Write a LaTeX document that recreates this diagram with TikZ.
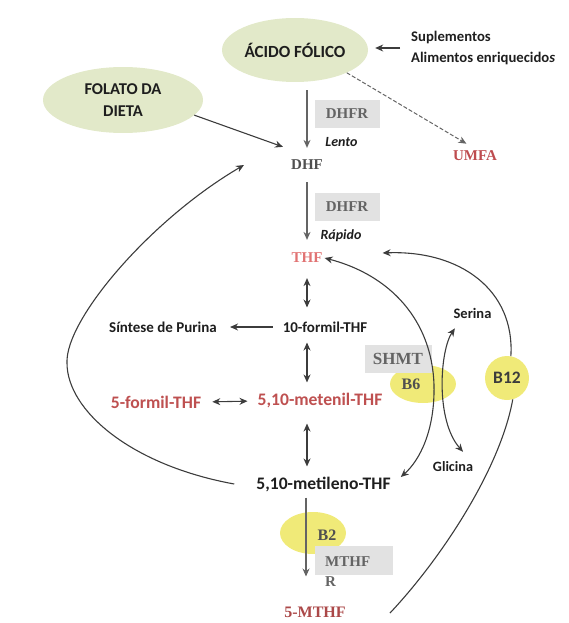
\documentclass[tikz,border=0pt]{standalone}
\usepackage{fontspec}
\setmainfont{Carlito}
\newfontfamily\tnr{Liberation Serif}
\usetikzlibrary{arrows.meta,shapes.geometric}
\definecolor{fGreen}{RGB}{226,233,201}
\definecolor{fYellow}{RGB}{240,234,120}
\definecolor{fBox}{RGB}{226,226,226}
\definecolor{fLine}{RGB}{60,60,60}
\definecolor{fEnz}{RGB}{100,100,100}
\definecolor{fRed}{RGB}{190,80,80}
\definecolor{fPink}{RGB}{225,115,115}
\definecolor{fDark}{RGB}{30,30,30}

\tikzset{
  blob/.style={ellipse, fill=fGreen, inner sep=0pt, align=center, text=fDark,
    font=\fontsize{16.5}{22}\selectfont\bfseries},
  vit/.style={ellipse, fill=fYellow, inner sep=0pt},
  lbl/.style={inner sep=2pt, text=fDark, font=\fontsize{15}{17}\selectfont\bfseries},
  big/.style={inner sep=2pt, text=fDark, font=\fontsize{17.6}{20}\selectfont\bfseries},
  small/.style={inner sep=2pt, text=fDark, font=\fontsize{14.5}{16}\selectfont\bfseries},
  ser/.style={inner sep=2pt, text=fEnz, font=\tnr\fontsize{15}{20}\selectfont\bfseries},
  gbox/.style={ser, fill=fBox, minimum width=65pt, minimum height=28pt},
  arr/.style={-{Stealth[length=8pt,width=7pt]}, line width=1.1pt, fLine},
  dbl/.style={{Stealth[length=8pt,width=7pt]}-{Stealth[length=8pt,width=7pt]}, line width=1.1pt, fLine},
}

\begin{document}
\begin{tikzpicture}[x=1pt,y=-1pt]
  \useasboundingbox (0,0) rectangle (568,623);

  % Sources
  \node[blob, minimum width=146pt, minimum height=64pt, font=\fontsize{17}{22}\selectfont\bfseries] (acido) at (295,50) {ÁCIDO FÓLICO};
  \node[blob, minimum width=160pt, minimum height=66pt] (folato) at (123,100) {FOLATO DA\\DIETA};
  \node[lbl, anchor=west, align=left, font=\fontsize{14.7}{21}\selectfont\bfseries] (supl) at (409,48)
    {Suplementos\\Alimentos enriquecido{\itshape s}};

  % Cofactors
  \node[vit, minimum width=66pt, minimum height=42pt] (b2) at (313,533) {};
  \node[vit, minimum width=66pt, minimum height=38pt] (b6) at (423,384) {};
  \node[circle, fill=fYellow, minimum size=44pt, inner sep=0pt, text=fLine,
    font=\fontsize{17.5}{19}\selectfont\bfseries] (b12) at (507,378) {B12};

  % Enzymes
  \node[gbox] (dhfrA) at (347,114) {DHFR};
  \node[gbox] (dhfrB) at (347,207) {DHFR};
  \node[gbox, minimum width=67pt, font=\tnr\fontsize{17}{20}\selectfont\bfseries] (shmt) at (398,359) {SHMT};
  \node[gbox, minimum width=78pt, minimum height=29pt] (mthfr) at (354,560) {};
  \node[ser, anchor=west, align=left] (mthfrtxt) at (323,572) {MTHF\\R};
  \node[ser, text=fEnz!80!black, font=\tnr\fontsize{16}{20}\selectfont\bfseries] (b2txt) at (327,535) {B2};
  \node[ser, text=fEnz!80!black, font=\tnr\fontsize{16}{20}\selectfont\bfseries] (b6txt) at (411,384) {B6};

  % Folate chain
  \node[ser, text=fLine!90!white] (dhf) at (307,165) {DHF};
  \node[ser, text=fPink] (thf) at (307,258) {THF};
  \node[lbl] (formilT) at (325,327) {10-formil-THF};
  \node[big, text=fRed] (metenil) at (320,401) {5,10-metenil-THF};
  \node[big] (metileno) at (323.5,484) {5,10-metileno-THF};
  \node[ser, text=fRed!90!black, font=\tnr\fontsize{16}{20}\selectfont\bfseries] (mthf5) at (315,612) {5-MTHF};

  % Side products
  \node[ser, text=fRed!95!purple] (umfa) at (475,156) {UMFA};
  \node[lbl] (purina) at (163,327) {Síntese de Purina};
  \node[big, text=fRed] (formilC) at (156,402) {5-formil-THF};
  \node[small] (serina) at (472.5,313) {Serina};
  \node[small, font=\fontsize{14.2}{16}\selectfont\bfseries] (glicina) at (453,467) {Glicina};
  \node[lbl, font=\fontsize{14}{16}\selectfont\bfseries\itshape] (lento) at (341.5,142) {Lento};
  \node[lbl, font=\fontsize{14}{16}\selectfont\bfseries\itshape] (rapido) at (341,236) {Rápido};

  % Main arrows
  \draw[arr, shorten <=9pt, shorten >=7pt] (supl.west) -- (supl.west -| acido.east);
  \draw[arr, fEnz] ([yshift=-8pt]acido.south -| dhf.north) -- ([yshift=10pt]dhf.north);
  \draw[arr, dash pattern=on 4pt off 2pt, line width=1pt, fEnz, shorten >=10pt] (acido.south east) -- (umfa.north);
  \draw[arr] (folato.-12) -- ([shift={(-6pt,11pt)}]dhf.north west);
  \draw[arr, fEnz, shorten <=10pt, shorten >=11pt] (dhf.south) -- (dhf.south |- thf.north);
  \draw[dbl, shorten <=13pt, shorten >=12pt] (thf.south) -- (thf.south |- formilT.north);
  \draw[dbl, shorten <=8pt, shorten >=9pt] (thf.south |- formilT.south) -- (thf.south |- metenil.north);
  \draw[dbl, shorten <=13pt, shorten >=8pt] (thf.south |- metenil.south) -- (thf.south |- metileno.north);
  \draw[arr, fEnz, shorten <=4pt, shorten >=28pt] ([xshift=-1pt]thf.south |- metileno.south) -- ([xshift=-1pt]thf.south |- mthf5.north);
  \draw[arr, shorten <=8pt, shorten >=11pt] (formilT.west) -- (purina.east);
  \draw[dbl, shorten <=9pt, shorten >=8pt] (formilC.east) -- (metenil.west);

  % Recycling to DHF
  \coordinate (loopL) at (67,363);
  \draw[arr] ([xshift=-20pt]metileno.west) .. controls (130,465) and (67,410) .. (loopL)
    .. controls (65,320) and (150,220) .. ([xshift=-45pt]dhf.west);

  % SHMT
  \coordinate (shmtMid) at (434,385);
  \draw[dbl] (thf.east) .. controls (390,275) and (432,320) .. (shmtMid)
    .. controls (435,430) and (420,460) .. ([shift={(8pt,7pt)}]metileno.east);
  \draw[dbl] ([shift={(3.5pt,-8pt)}]serina.south west) .. controls (440,350) and (435,420)
    .. ([shift={(10pt,8pt)}]glicina.north);

  % B12 return
  \coordinate (b12from) at (390,613);
  \draw[line width=1.1pt, fLine] (b12from) .. controls (440,560) and (500,470) .. (b12.-75);
  \draw[arr] (b12.80) .. controls (515,290) and (460,250) .. ([shift={(58pt,5pt)}]thf.east);
\end{tikzpicture}
\end{document}
